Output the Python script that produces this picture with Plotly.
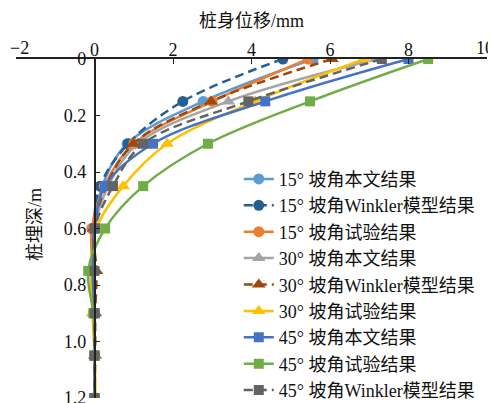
import plotly.graph_objects as go

depth = [0, 0.15, 0.3, 0.45, 0.6, 0.75, 0.9, 1.05, 1.2]

names = [
    "15° 坡角本文结果",
    "15° 坡角Winkler模型结果",
    "15° 坡角试验结果",
    "30° 坡角本文结果",
    "30° 坡角Winkler模型结果",
    "30° 坡角试验结果",
    "45° 坡角本文结果",
    "45° 坡角试验结果",
    "45° 坡角Winkler模型结果",
]

s15_model = [5.57, 2.77, 0.83, 0.20, 0.00, -0.05, -0.02, 0.00, 0.00]
s15_winkler = [4.80, 2.25, 0.86, 0.14, -0.02, -0.03, 0.00, 0.00, 0.00]
s15_test = [5.44, 3.00, 1.00, 0.25, -0.07, -0.05, -0.02, 0.00, 0.00]
s30_model = [7.20, 3.41, 1.10, 0.35, 0.00, -0.05, -0.02, 0.00, 0.00]
s30_winkler = [6.05, 2.97, 0.99, 0.30, -0.02, 0.05, 0.02, 0.02, 0.00]
s30_test = [6.87, 4.09, 1.85, 0.73, 0.05, -0.10, -0.05, 0.00, 0.03]
s45_model = [8.00, 4.35, 1.49, 0.27, 0.00, -0.05, 0.00, 0.00, 0.00]
s45_test = [8.50, 5.49, 2.89, 1.24, 0.27, -0.16, -0.03, 0.00, 0.00]
s45_winkler = [7.32, 3.92, 1.24, 0.47, 0.01, 0.00, 0.00, 0.00, 0.00]

series = [s15_model, s15_winkler, s15_test, s30_model, s30_winkler,
          s30_test, s45_model, s45_test, s45_winkler]
colors = ["#5B9BD5", "#255E91", "#ED7D31", "#A5A5A5", "#9E480E",
          "#FFC000", "#4472C4", "#70AD47", "#636363"]
symbols = ["circle", "circle", "circle", "triangle-up", "triangle-up",
           "triangle-up", "square", "square", "square"]
dashes = ["solid", "9px,5px", "solid", "solid", "9px,5px",
          "solid", "solid", "solid", "9px,5px"]
msizes = [11, 11, 11, 12, 12, 12, 10, 10, 10]

xticks = [-2, 0, 2, 4, 6, 8, 10]
xticklabels = ["", "0", "2", "4", "6", "8", ""]
edge_ticks = [-2, 10]
edge_labels = ["\u22122", "10"]
yticks = [0, 0.2, 0.4, 0.6, 0.8, 1.0, 1.2]
yticklabels = ["0", "0.2", "0.4", "0.6", "0.8", "1.0", "1.2"]

FONT = "Liberation Serif, 'Noto Sans CJK SC', serif"

fig = go.Figure()
for i, (nm, vals) in enumerate(zip(names, series)):
    fig.add_trace(go.Scatter(
        x=vals, y=depth, name=nm, mode="lines+markers",
        line=dict(color=colors[i], width=2.5, dash=dashes[i], shape="spline", smoothing=1.0),
        marker=dict(color=colors[i], symbol=symbols[i], size=msizes[i]),
        legendgroup="g%d" % i,
    ))

annotations = [
    dict(text="桩身位移/mm", x=0.5, y=1.112, xref="paper", yref="paper",
         xanchor="center", yanchor="middle",
         showarrow=False, font=dict(size=18, family=FONT)),
    dict(text="桩埋深/m", x=(35-16)/471, y=1-(225-59)/339, xref="paper", yref="paper",
         xanchor="center", yanchor="middle",
         showarrow=False, textangle=-90, font=dict(size=18, family=FONT)),
]
for v, lab, anc, sh in zip(edge_ticks, edge_labels, ["left", "right"], [-7, 8]):
    annotations.append(dict(text=lab, x=v, y=1, xref="x", yref="paper",
                            xanchor=anc, yanchor="middle", xshift=sh, yshift=11,
                            showarrow=False, borderpad=0,
                            font=dict(size=18, family=FONT)))

fig.update_layout(
    width=488, height=395,
    margin=dict(l=8, r=9, t=51, b=5, autoexpand=False),
    paper_bgcolor="white", plot_bgcolor="white",
    font=dict(family=FONT, size=18, color="#111111"),
    showlegend=True,
    legend=dict(x=0.473, y=0.70, xanchor="left", yanchor="top",
                bgcolor="rgba(0,0,0,0)", font=dict(size=18, family=FONT),
                tracegroupgap=0, traceorder="grouped", itemwidth=30),
    xaxis=dict(range=[-2, 10], side="top", anchor="y",
               tickvals=xticks, ticktext=xticklabels,
               showline=True, linecolor="#222222", linewidth=1.5,
               ticks="inside", ticklen=5, tickcolor="#222222", automargin=False,
               ticklabelstandoff=-6, ticklabeloverflow="allow",
               showgrid=False, zeroline=False, tickfont=dict(size=18)),
    yaxis=dict(range=[1.2, 0], anchor="free", position=2/12,
               tickvals=yticks, ticktext=yticklabels, automargin=False,
               ticklabelstandoff=4, ticklabeloverflow="allow",
               showline=True, linecolor="#222222", linewidth=1.5,
               ticks="inside", ticklen=5, tickcolor="#222222",
               showgrid=False, zeroline=False, tickfont=dict(size=18)),
    annotations=annotations,
)

fig.write_html("out.html")
